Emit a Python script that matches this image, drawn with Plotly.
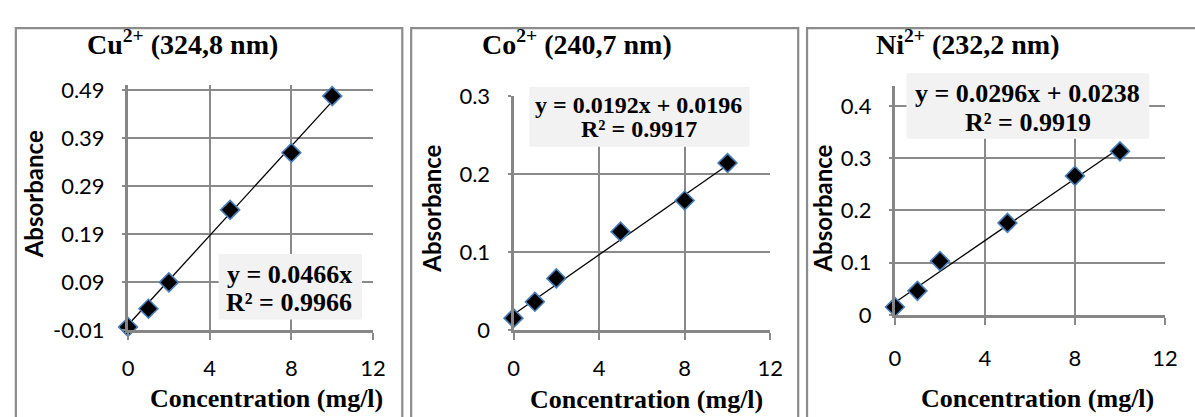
import plotly.graph_objects as go

W, H = 1195, 417

# ---------------- data ----------------
conc = [0, 1, 2, 5, 8, 10]
cu_abs = [-0.004, 0.034, 0.089, 0.240, 0.359, 0.477]
co_abs = [0.015, 0.036, 0.066, 0.126, 0.166, 0.214]
ni_abs = [0.015, 0.046, 0.103, 0.176, 0.266, 0.313]

cu_fit = (0.0466, 0.0)
co_fit = (0.0192, 0.0196)
ni_fit = (0.0296, 0.0238)

titles = ["Cu<sup>2+</sup> (324,8 nm)", "Co<sup>2+</sup> (240,7 nm)", "Ni<sup>2+</sup> (232,2 nm)"]
eq_lines = [["y = 0.0466x", "R² = 0.9966"],
            ["y = 0.0192x + 0.0196", "R² = 0.9917"],
            ["y = 0.0296x + 0.0238", "R² = 0.9919"]]
x_ticks = [0, 4, 8, 12]
cu_yticks = [-0.01, 0.09, 0.19, 0.29, 0.39, 0.49]
cu_ylabels = ["-0.01", "0.09", "0.19", "0.29", "0.39", "0.49"]
co_yticks = [0, 0.1, 0.2, 0.3]
co_ylabels = ["0", "0.1", "0.2", "0.3"]
ni_yticks = [0, 0.1, 0.2, 0.3, 0.4]
ni_ylabels = ["0", "0.1", "0.2", "0.3", "0.4"]
fit_x = [0, 10]

# ---------------- layout helpers ----------------
def px(x):
    return x / W

def py(y):
    return 1 - y / H

GRID = "#8a8a8a"
AXIS = "#868686"
BORDER = "#8c8c8c"
MARK_LINE = "#4a7ebb"
SANS = "Lato"
SERIF = "Liberation Serif"

panels = [
    dict(data=cu_abs, fit=cu_fit, yticks=cu_yticks, ylabels=cu_ylabels, yrange=[-0.01, 0.5],
         xpx=(124, 373), ypx=(76, 337.7), box=(216, 256.7, 361.7, 326.7),
         eq_xy=(288, 278, 308), eq_size=26, title_x=179, xt_x=265, xt_y=411,
         yt_x=28, yt_y=193.3, border=(10, 402.7), xstand=10),
    dict(data=co_abs, fit=co_fit, yticks=co_yticks, ylabels=co_ylabels, yrange=[0, 0.3],
         xpx=(515.7, 776.7), ypx=(87.7, 337.7), box=(531.7, 78, 755.7, 142),
         eq_xy=(643, 97.7, 123.3), eq_size=24, title_x=580.5, xt_x=651.3, xt_y=412.5,
         yt_x=432, yt_y=208, border=(411.7, 805), xstand=10),
    dict(data=ni_abs, fit=ni_fit, yticks=ni_yticks, ylabels=ni_ylabels, yrange=[0, 0.4376],
         xpx=(903.3, 1177.7), ypx=(77.3, 321.7), box=(915, 63.3, 1161.7, 133.3),
         eq_xy=(1038.3, 85, 116), eq_size=26, title_x=978, xt_x=1048.3, xt_y=411,
         yt_x=830, yt_y=208.3, border=(814, 1210), xstand=15),
]

fig = go.Figure()
shapes = []
annotations = []

for i, p in enumerate(panels):
    n = "" if i == 0 else str(i + 1)
    xa, ya = "x" + n, "y" + n
    # trendline
    a, b = p["fit"]
    fig.add_trace(go.Scatter(x=fit_x, y=[a * v + b for v in fit_x], mode="lines",
                             line=dict(color="black", width=1.3), xaxis=xa, yaxis=ya,
                             showlegend=False, hoverinfo="skip"))
    # points
    fig.add_trace(go.Scatter(x=conc, y=p["data"], mode="markers",
                             marker=dict(symbol="diamond", size=14.5, color="black",
                                         line=dict(color=MARK_LINE, width=1.6)),
                             xaxis=xa, yaxis=ya, showlegend=False, cliponaxis=False))
    x0, x1 = p["xpx"]
    yt, yb = p["ypx"]
    fig.update_layout(**{
        "xaxis" + n: dict(domain=[px(x0), px(x1)], range=[0, 12], anchor=ya,
                          tickvals=x_ticks, showgrid=True, gridcolor=GRID, gridwidth=2,
                          showline=True, linecolor=AXIS, linewidth=2.5, zeroline=False,
                          ticks="outside", ticklen=7, tickcolor=GRID, tickwidth=2,
                          tickfont=dict(family=SANS, size=22, color="black"),
                          ticklabelstandoff=p["xstand"], fixedrange=True),
        "yaxis" + n: dict(domain=[py(yb), py(yt)], range=p["yrange"], anchor=xa,
                          tickvals=p["yticks"], ticktext=p["ylabels"], showgrid=True,
                          gridcolor=GRID, gridwidth=2, showline=True, linecolor=AXIS,
                          linewidth=3, zeroline=False, ticks="outside", ticklen=3,
                          tickcolor=GRID, tickwidth=2,
                          tickfont=dict(family=SANS, size=22, color="black"),
                          ticklabelstandoff=13, fixedrange=True),
    })
    # panel border
    bx0, bx1 = p["border"]
    shapes.append(dict(type="rect", xref="paper", yref="paper", x0=px(bx0), x1=px(bx1),
                       y0=py(15), y1=-0.1, line=dict(color=BORDER, width=2.2),
                       fillcolor="rgba(0,0,0,0)", layer="below"))
    # equation box
    ex0, ey0, ex1, ey1 = p["box"]
    shapes.append(dict(type="rect", xref="paper", yref="paper", x0=px(ex0), x1=px(ex1),
                       y0=py(ey1), y1=py(ey0), line=dict(width=0), fillcolor="#f2f2f2",
                       layer="above"))
    cx, l1, l2 = p["eq_xy"]
    for text, yy in zip(eq_lines[i], (l1, l2)):
        annotations.append(dict(text="<b>" + text + "</b>", xref="paper", yref="paper",
                                x=px(cx), y=py(yy), xanchor="center", yanchor="middle",
                                showarrow=False,
                                font=dict(family=SERIF, size=p["eq_size"], color="black")))
    # chart title
    annotations.append(dict(text="<b>" + titles[i] + "</b>", xref="paper", yref="paper",
                            x=px(p["title_x"]), y=py(31), xanchor="center", yanchor="middle",
                            showarrow=False, font=dict(family=SERIF, size=28, color="black")))
    # x title
    annotations.append(dict(text="<b>Concentration (mg/l)</b>", xref="paper", yref="paper",
                            x=px(p["xt_x"]), y=py(p["xt_y"]), xanchor="center",
                            yanchor="middle", showarrow=False,
                            font=dict(family=SERIF, size=26, color="black")))
    # y title
    annotations.append(dict(text="<b>Absorbance</b>", xref="paper", yref="paper",
                            x=px(p["yt_x"]), y=py(p["yt_y"]), xanchor="center",
                            yanchor="middle", showarrow=False, textangle=-90,
                            font=dict(family=SANS, size=24, color="black")))

fig.update_layout(width=W, height=H, margin=dict(l=0, r=0, t=0, b=0),
                  paper_bgcolor="white", plot_bgcolor="white",
                  shapes=shapes, annotations=annotations, showlegend=False)

fig.write_html("out.html")
